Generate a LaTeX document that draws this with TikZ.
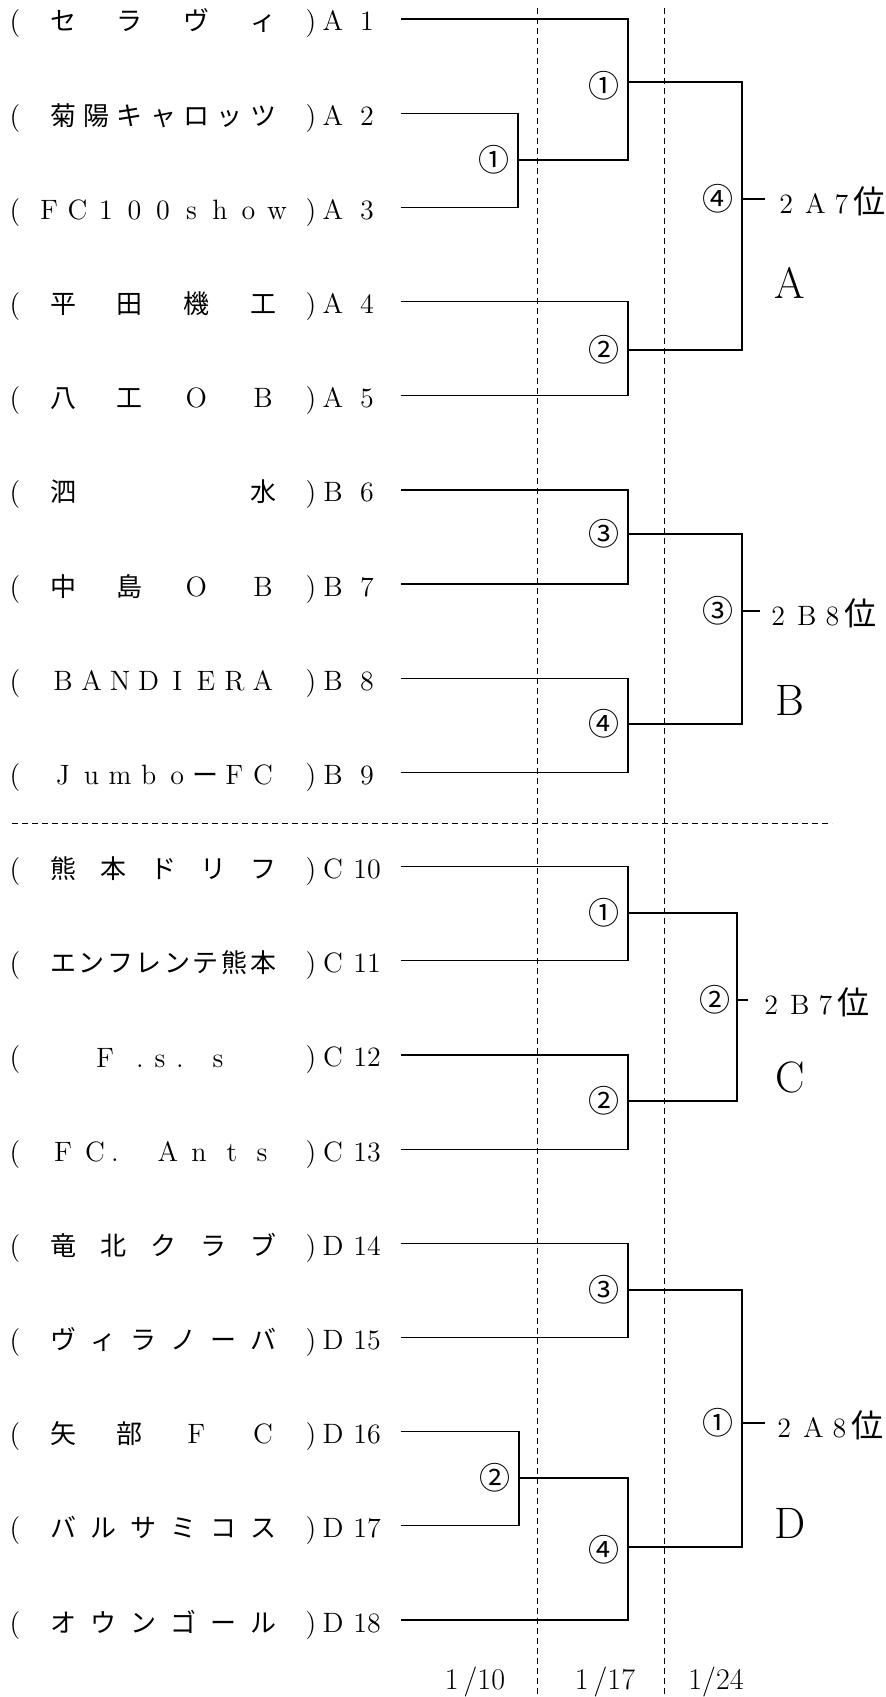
\documentclass[tikz,border=0pt]{standalone}
\usepackage{fontspec}
\usepackage{tikz}
\usetikzlibrary{positioning}
\newfontfamily\jp{Noto Sans CJK JP}
\newcommand{\lat}{\rmfamily\fontsize{14}{14}\selectfont}
\newcommand{\place}[3]{#1\hspace{6pt}#2\hspace{4.5pt}#3\hspace{2.5pt}{\jp\fontsize{16}{16}\selectfont 位}}

\begin{document}
\begin{tikzpicture}[x=0.5pt,y=-0.5pt,
    namechar/.style={font=\jp\fontsize{13}{13}\selectfont,inner sep=0pt,anchor=base},
    rowtext/.style={font=\fontsize{14}{14}\selectfont,inner sep=0pt,anchor=base},
    roundno/.style={font=\jp\fontsize{15.5}{15.5}\selectfont,inner sep=0pt},
    bigletter/.style={font=\fontsize{22}{22}\selectfont,inner sep=0pt},
    datetext/.style={font=\fontsize{15}{15}\selectfont,inner sep=0pt},
    wire/.style={line width=0.6pt},
    guide/.style={line width=0.5pt,dash pattern=on 3pt off 2pt}]
    \useasboundingbox (0,0) rectangle (886,1697);

    % round columns and group split
    \draw[guide] (537,8) -- (537,1697);
    \draw[guide] (664,8) -- (664,1697);
    \draw[guide] (12,823) -- (832,823);

    % team rows
    \foreach \i/\g in {1/A,2/A,3/A,4/A,5/A,6/B,7/B,8/B,9/B,10/C,11/C,12/C,13/C,
                       14/D,15/D,16/D,17/D,18/D} {
        \pgfmathsetmacro\y{19+(\i-1)*94.18}
        \node[rowtext] (lp\i) at (15,\y+12) {(};
        \node[rowtext] (rp\i) at (311,\y+12) {)};
        \node[rowtext] (gr\i) at (333,\y+12) {\g};
        \node[rowtext] (no\i) at (367,\y+12) {\i};
        \coordinate (e\i) at (401,\y);
    }

    % team names, spread over the field
    \foreach \i/\cnt/\chars in {
        1/4/{セ,ラ,ヴ,ィ},
        2/7/{菊,陽,キ,ャ,ロ,ッ,ツ},
        3/9/{\lat F,\lat C,\lat 1,\lat 0,\lat 0,\lat s,\lat h,\lat o,\lat w},
        4/4/{平,田,機,工},
        5/4/{八,工,\lat O,\lat B},
        6/2/{泗,水},
        7/4/{中,島,\lat O,\lat B},
        8/8/{\lat B,\lat A,\lat N,\lat D,\lat I,\lat E,\lat R,\lat A},
        9/8/{\lat J,\lat u,\lat m,\lat b,\lat o,ー,\lat F,\lat C},
        10/5/{熊,本,ド,リ,フ},
        11/8/{エ,ン,フ,レ,ン,テ,熊,本},
        14/5/{竜,北,ク,ラ,ブ},
        15/6/{ヴ,ィ,ラ,ノ,ー,バ},
        16/4/{矢,部,\lat F,\lat C},
        17/6/{バ,ル,サ,ミ,コ,ス},
        18/6/{オ,ウ,ン,ゴ,ー,ル}} {
        \pgfmathsetmacro\y{19+(\i-1)*94.18+12}
        \pgfmathsetmacro\dx{max(200/(\cnt-1),28.5)}
        \foreach \c [count=\k] in \chars {
            \node[namechar] (n\i-\k) at ({163+(\k-(\cnt+1)/2)*\dx},\y) {\c};
        }
    }
    \foreach \c/\x [count=\k] in {F/105,./140,s/160,./180,s/218}
        \node[namechar] (n12-\k) at (\x,1067) {\lat\c};
    \foreach \c/\x [count=\k] in {F/63,C/95,./115,A/168,n/199,t/232,s/262}
        \node[namechar] (n13-\k) at (\x,1161) {\lat\c};

    % group A
    \coordinate (mA1) at (518,160);
    \coordinate (mA2) at (628,82);
    \coordinate (mA3) at (628,350);
    \coordinate (mAf) at (742,199);
    \coordinate (kA) at (765,199);
    \draw[wire] (e2) -| (mA1) |- (e3);
    \draw[wire] (e1) -| (mA2) |- (mA1);
    \draw[wire] (e4) -| (mA3) |- (e5);
    \draw[wire] (mA2) -| (mAf) |- (mA3);
    \draw[wire] (mAf) -- (kA);
    \node[roundno,left=4pt of mA1] (rA1) {①};
    \node[roundno,left=4pt of mA2,yshift=-2pt] (rA2) {①};
    \node[roundno,left=4pt of mA3] (rA3) {②};
    \node[roundno,left=4pt of mAf] (rAf) {④};
    \node[rowtext,anchor=west] (wA) at (779,201) {\place{2}{A}{7}};
    \node[bigletter] (bigA) at (790,283) {A};

    % group B
    \coordinate (mB1) at (628,534);
    \coordinate (mB2) at (628,724);
    \coordinate (mBf) at (742,611);
    \coordinate (kB) at (760,611);
    \draw[wire] (e6) -| (mB1) |- (e7);
    \draw[wire] (e8) -| (mB2) |- (e9);
    \draw[wire] (mB1) -| (mBf) |- (mB2);
    \draw[wire] (mBf) -- (kB);
    \node[roundno,left=4pt of mB1] (rB1) {③};
    \node[roundno,left=4pt of mB2] (rB2) {④};
    \node[roundno,left=4pt of mBf] (rBf) {③};
    \node[rowtext,anchor=west] (wB) at (771,613) {\place{2}{B}{8}};
    \node[bigletter] (bigB) at (790,700) {B};

    % group C
    \coordinate (mC1) at (628,913);
    \coordinate (mC2) at (628,1101);
    \coordinate (mCf) at (737,1000);
    \coordinate (kC) at (748,1000);
    \draw[wire] (e10) -| (mC1) |- (e11);
    \draw[wire] (e12) -| (mC2) |- (e13);
    \draw[wire] (mC1) -| (mCf) |- (mC2);
    \draw[wire] (mCf) -- (kC);
    \node[roundno,left=4pt of mC1] (rC1) {①};
    \node[roundno,left=4pt of mC2] (rC2) {②};
    \node[roundno,left=3pt of mCf] (rCf) {②};
    \node[rowtext,anchor=west] (wC) at (764,1002) {\place{2}{B}{7}};
    \node[bigletter] (bigC) at (790,1077) {C};

    % group D
    \coordinate (mD1) at (628,1290);
    \coordinate (mD2) at (519,1478);
    \coordinate (mD3) at (628,1547);
    \coordinate (mDf) at (742,1423);
    \coordinate (kD) at (765,1423);
    \draw[wire] (e14) -| (mD1) |- (e15);
    \draw[wire] (e16) -| (mD2) |- (e17);
    \draw[wire] (mD2) -| (mD3) |- (e18);
    \draw[wire] (mD1) -| (mDf) |- (mD3);
    \draw[wire] (mDf) -- (kD);
    \node[roundno,left=4pt of mD1] (rD1) {③};
    \node[roundno,left=4pt of mD2] (rD2) {②};
    \node[roundno,left=4pt of mD3,yshift=-1.5pt] (rD3) {④};
    \node[roundno,left=4pt of mDf] (rDf) {①};
    \node[rowtext,anchor=west] (wD) at (777,1425) {\place{2}{A}{8}};
    \node[bigletter] (bigD) at (790,1523) {D};

    % match days
    \node[datetext] (day1) at (475,1682) {1\,/10};
    \node[datetext] (day2) at (605,1682) {1\,/17};
    \node[datetext] (day3) at (716,1682) {1/24};
\end{tikzpicture}
\end{document}
